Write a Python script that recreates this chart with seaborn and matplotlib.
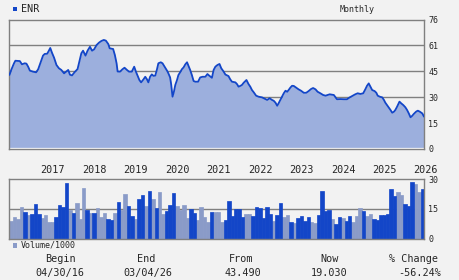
import matplotlib
matplotlib.use("Agg")
import matplotlib.pyplot as plt
from matplotlib.patches import Rectangle
import numpy as np
import pandas as pd
import seaborn as sns

ticker = "ENR"
freq_label = "Monthly"
vol_label = "Volume/1000"

# price curve: time in months since the start (Apr 2016), closing price
price_t = [0, 0.5, 1.3, 1.7, 3.0, 3.6, 4.4, 4.9, 5.4, 5.9,
           6.8, 7.7, 8.3, 8.9, 9.7, 10.2, 10.9, 11.4, 11.8, 12.3,
           12.9, 13.6, 14.3, 15.0, 15.8, 16.5, 17.0, 17.5, 18.1, 18.9,
           19.7, 20.2, 20.8, 21.3, 22.0, 22.6, 23.3, 23.9, 24.5, 25.2,
           25.9, 26.6, 27.3, 27.9, 28.6, 29.0, 30.0, 30.5, 31.0, 31.3,
           32.0, 32.7, 33.3, 34.0, 34.6, 35.4, 36.1, 36.6, 37.2, 37.6,
           38.1, 38.8, 39.3, 39.8, 40.2, 40.7, 41.2, 41.7, 42.2, 42.7,
           43.1, 43.8, 44.3, 44.9, 45.6, 46.0, 46.5, 46.8, 47.2, 47.6,
           48.0, 48.5, 48.9, 49.4, 49.9, 50.4, 50.9, 51.4, 51.8, 52.3,
           52.8, 53.3, 53.8, 54.6, 55.2, 55.9, 56.7, 57.3, 57.8, 58.6,
           59.1, 59.6, 60.2, 60.8, 61.3, 62.0, 62.5, 63.4, 63.9, 64.4,
           65.4, 65.9, 66.3, 66.8, 67.3, 67.8, 68.6, 69.2, 69.7, 70.2,
           70.7, 71.4, 72.1, 73.1, 74.1, 74.6, 75.3, 76.0, 76.5, 77.0,
           77.5, 77.9, 78.4, 78.9, 79.4, 79.9, 80.4, 80.8, 81.3, 81.8,
           82.3, 83.0, 83.7, 84.4, 85.2, 85.9, 86.6, 87.3, 87.9, 88.6,
           89.2, 90.0, 90.8, 91.5, 92.1, 92.7, 93.9, 94.4, 94.8, 95.8,
           96.8, 97.7, 98.5, 99.2, 100.1, 100.8, 101.6, 102.4, 103.0, 103.5,
           104.0, 104.5, 105.0, 105.7, 106.2, 106.6, 107.2, 107.9, 108.4, 108.8,
           109.3, 109.8, 110.3, 110.8, 111.3, 111.7, 112.2, 112.9, 113.4, 114.0,
           114.6, 115.1, 115.6, 116.1, 116.6, 117.0, 117.7, 118.2, 118.8, 119.5,
           120.0]
price = [43.5, 46.4, 50.3, 51.8, 51.6, 49.7, 50.3, 50.1, 48.3, 46.0,
         45.4, 45.0, 46.8, 50.3, 54.8, 55.8, 55.9, 57.7, 59.3, 56.5,
         53.6, 49.3, 47.4, 46.4, 44.4, 45.6, 46.4, 43.6, 43.2, 45.2,
         46.9, 51.2, 56.2, 57.7, 54.8, 57.7, 60.0, 57.7, 58.5, 61.0,
         62.4, 63.4, 64.0, 63.6, 61.6, 59.1, 58.7, 55.2, 50.3, 45.5,
         45.4, 46.8, 47.7, 46.4, 45.4, 45.4, 48.3, 45.4, 42.4, 40.5,
         39.1, 40.9, 42.4, 40.9, 39.1, 42.4, 43.8, 42.9, 43.1, 46.8,
         50.3, 50.9, 50.3, 48.3, 46.0, 44.4, 42.0, 38.0, 30.7, 33.6,
         37.6, 40.5, 43.4, 45.0, 46.8, 47.9, 49.7, 50.9, 48.9, 46.4,
         43.4, 39.9, 39.5, 39.5, 42.0, 42.4, 42.4, 44.0, 43.1, 41.8,
         46.4, 48.3, 49.3, 49.9, 47.4, 45.4, 43.7, 42.8, 40.9, 39.5,
         39.1, 38.0, 36.6, 37.0, 37.6, 38.9, 40.5, 38.1, 36.6, 34.6,
         33.3, 31.3, 30.7, 30.3, 29.3, 28.8, 29.8, 28.8, 28.3, 27.2,
         25.4, 26.8, 28.8, 30.7, 32.7, 34.2, 33.6, 34.6, 36.0, 37.1,
         37.0, 36.0, 35.0, 34.2, 33.0, 33.0, 34.0, 35.2, 35.8, 35.0,
         33.6, 32.7, 31.7, 31.3, 31.7, 32.1, 31.7, 30.3, 29.2, 29.3,
         29.2, 29.2, 30.3, 31.1, 32.1, 32.7, 32.3, 32.7, 35.0, 37.1,
         38.5, 36.6, 34.6, 34.0, 33.0, 31.3, 30.7, 30.3, 28.8, 27.2,
         25.8, 24.5, 22.9, 21.3, 21.9, 22.9, 24.8, 27.8, 26.8, 25.8,
         24.5, 22.9, 20.9, 18.6, 19.5, 20.5, 21.9, 22.5, 21.9, 20.9,
         19.0]

# monthly volume (thousands), one bar per month Apr 2016 .. Mar 2026
volume = [8.9, 11.0, 9.9, 16.0, 13.5, 12.0, 12.5, 17.5, 12.5, 10.5,
          12.0, 8.4, 8.4, 11.0, 17.0, 16.0, 28.2, 14.5, 13.0, 18.0,
          9.9, 25.6, 14.5, 13.0, 13.0, 15.5, 11.0, 13.0, 9.9, 9.4,
          13.0, 18.5, 14.5, 22.6, 16.5, 11.5, 9.9, 20.1, 22.1, 16.5,
          24.1, 20.1, 15.5, 23.6, 12.5, 14.0, 17.0, 23.1, 16.5, 14.5,
          17.0, 10.5, 15.0, 13.0, 9.4, 16.0, 11.0, 8.4, 13.5, 13.5,
          13.5, 8.4, 9.4, 19.1, 11.5, 15.0, 15.0, 11.0, 12.5, 12.5,
          11.5, 16.0, 15.5, 10.5, 16.0, 12.5, 8.9, 12.0, 18.0, 11.0,
          12.0, 8.4, 7.9, 10.5, 11.5, 8.9, 11.0, 8.4, 7.9, 12.0,
          24.1, 14.0, 14.5, 9.9, 7.4, 11.0, 10.5, 8.9, 11.5, 8.4,
          11.5, 15.5, 14.0, 11.5, 12.5, 9.9, 9.4, 12.0, 12.0, 12.5,
          25.1, 21.6, 23.6, 22.1, 17.5, 16.5, 28.7, 27.7, 23.6, 25.1]
# 1 = dark bar, 0 = light bar
volume_dark = [0, 0, 0, 0, 1, 0, 1, 1, 1, 0,
               0, 0, 0, 1, 1, 1, 1, 0, 1, 0,
               0, 0, 1, 0, 1, 0, 0, 0, 1, 1,
               0, 1, 0, 0, 1, 1, 0, 1, 1, 0,
               1, 0, 1, 0, 0, 1, 1, 1, 0, 0,
               0, 0, 1, 1, 0, 0, 0, 0, 1, 0,
               0, 0, 1, 1, 1, 1, 1, 1, 0, 0,
               1, 1, 1, 1, 1, 1, 0, 1, 1, 0,
               0, 1, 0, 1, 1, 1, 1, 0, 0, 1,
               1, 1, 1, 0, 1, 1, 0, 1, 1, 0,
               0, 0, 1, 0, 0, 1, 1, 1, 1, 1,
               1, 1, 0, 0, 1, 1, 1, 0, 0, 1]

year_labels = ["2017", "2018", "2019", "2020", "2021", "2022", "2023", "2024", "2025", "2026"]
year_month_idx = [9, 21, 33, 45, 57, 69, 81, 93, 105, 117]
price_ticks = [0, 15.2, 30.4, 45.6, 60.8, 76]
price_tick_labels = ["0", "15", "30", "45", "61", "76"]
vol_ticks = [0, 15, 30]
vol_tick_labels = ["0", "15", "30"]
stat_heads = ["Begin", "End", "From", "Now", "% Change"]
stat_values = ["04/30/16", "03/04/26", "43.490", "19.030", "-56.24%"]

BG = "#f2f2f2"
FILL = "#9cafdd"
LINE = "#1346c8"
DARK = "#1346c8"
LIGHT = "#8a9bc8"
GRID = "#808080"
MONO = "DejaVu Sans Mono"

sns.set_style("white")
plt.rcParams["font.family"] = ["DejaVu Sans"]

W, H = 460, 280
fig = plt.figure(figsize=(W / 100, H / 100), dpi=100, facecolor=BG)


def rect(l, t, r, b):
    return [l / W, 1 - b / H, (r - l) / W, (b - t) / H]


axp = fig.add_axes(rect(9.5, 19.5, 424, 149))
axv = fig.add_axes(rect(9.5, 179.3, 424, 238.7))

# ---- price panel ----
axp.set_facecolor(BG)
for y in price_ticks[1:-1]:
    axp.axhline(y, color=GRID, lw=1.0, zorder=0)
axp.fill_between(price_t, price, 0, color=FILL, lw=0, zorder=1)
axp.axhline(0.8, color="white", lw=0.9, zorder=2)
sns.lineplot(x=price_t, y=price, ax=axp, color=LINE, lw=1.3, estimator=None, zorder=3)
axp.set_xlim(0, 120)
axp.set_ylim(0, 76)
axp.set_xticks([])
axp.yaxis.tick_right()
axp.set_yticks(price_ticks, price_tick_labels)
axp.tick_params(axis="y", length=0, pad=3, labelsize=6)
for lab in axp.get_yticklabels():
    lab.set_family(MONO)
for s in axp.spines.values():
    s.set_color(GRID)
    s.set_linewidth(1.0)
axp.set_xlabel("")
axp.set_ylabel("")
for idx, lab in zip(year_month_idx, year_labels):
    axp.text(idx, -0.162, lab, transform=axp.get_xaxis_transform(), ha="left",
             va="center", fontsize=7.3, family=MONO)

# ---- volume panel ----
axv.set_facecolor(BG)
axv.axhline(15, color=GRID, lw=1.0, zorder=0)
dfv = pd.DataFrame({"month": np.arange(len(volume)), "volume": volume,
                    "kind": ["dark" if d else "light" for d in volume_dark]})
sns.barplot(data=dfv, x="month", y="volume", hue="kind",
            palette={"dark": DARK, "light": LIGHT}, dodge=False, width=1.0,
            saturation=1, legend=False, ax=axv, zorder=2)
for p in axv.patches:
    p.set_edgecolor(p.get_facecolor())
    p.set_linewidth(0.5)
axv.set_xlim(-0.5, len(volume) - 0.5)
axv.set_ylim(0, 30)
axv.set_xticks([])
axv.yaxis.tick_right()
axv.set_yticks(vol_ticks, vol_tick_labels)
axv.tick_params(axis="y", length=0, pad=3, labelsize=6)
for lab in axv.get_yticklabels():
    lab.set_family(MONO)
for s in axv.spines.values():
    s.set_color(GRID)
    s.set_linewidth(1.0)
    s.set_zorder(5)
axv.set_xlabel("")
axv.set_ylabel("")

# ---- header / legends ----
fig.add_artist(Rectangle((12.7 / W, 1 - 11.3 / H), 4.6 / W, 4.6 / H,
                         transform=fig.transFigure, color=DARK, lw=0))
fig.text(21.5 / W, 1 - 9.3 / H, ticker, fontsize=7.3, family=MONO, va="center", ha="left")
fig.text(357 / W, 1 - 9.3 / H, freq_label, fontsize=6, family=MONO, va="center",
         ha="center")
fig.add_artist(Rectangle((12.7 / W, 1 - 247.7 / H), 4.4 / W, 4.4 / H,
                         transform=fig.transFigure, color=LIGHT, lw=0))
fig.text(20.7 / W, 1 - 245.5 / H, vol_label, fontsize=6, family=MONO, va="center", ha="left")

head_x = [60, 146.5, 241, 330, 414]
val_x = [59.5, 147.5, 242.5, 329.5, 420]
for hx, vx, h, v in zip(head_x, val_x, stat_heads, stat_values):
    fig.text(hx / W, 1 - 259.5 / H, h, fontsize=7.3, family=MONO, va="center", ha="center")
    fig.text(vx / W, 1 - 273.3 / H, v, fontsize=7.3, family=MONO, va="center", ha="center")

fig.savefig("out.png", dpi=100, facecolor=BG)
